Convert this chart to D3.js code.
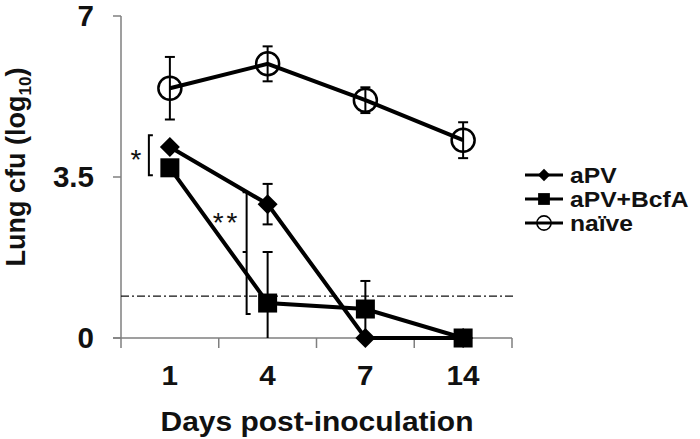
<!DOCTYPE html>
<html>
<head>
<meta charset="utf-8">
<script src="https://cdn.jsdelivr.net/npm/d3@7"></script>
<style>
  body { margin: 0; background: #fff; }
  text { font-family: "Liberation Sans", Arial, sans-serif; font-weight: bold; fill: #111; }
</style>
</head>
<body>
<svg id="chart" width="700" height="439"></svg>
<script>
// Values (log10 cfu)
const days = ["1", "4", "7", "14"];
const apv = [4.15, 2.91, 0, 0];
const apvErr = [0.1, 0.44, 0, 0];
const apvBcfa = [3.7, 0.76, 0.63, 0];
const apvBcfaErr = [0.1, 1.11, 0.61, 0];
const naive = [5.43, 5.96, 5.17, 4.3];
const naiveErr = [0.68, 0.38, 0.28, 0.39];
const yTicks = [0, 3.5, 7];
const yTickLabels = ["0", "3.5", "7"];
const detectionLimit = 0.91;
const seriesNames = ["aPV", "aPV+BcfA", "naïve"];

const svg = d3.select("#chart");
const margin = { left: 121, right: 188, top: 16, bottom: 101 };
const width = 700, height = 439;
const drawWidth = width - margin.left - margin.right;
const drawHeight = height - margin.top - margin.bottom;

const xScale = d3.scaleBand().domain(days).range([0, drawWidth]);
const yScale = d3.scaleLinear().domain([0, 7]).range([drawHeight, 0]).clamp(true);
const cx = (d) => xScale(d) + xScale.bandwidth() / 2;

// stretch text a bit wider, the original font is broader than Liberation
function widen(sel, k) {
    sel.each(function () {
        const w = this.getComputedTextLength();
        d3.select(this).attr("textLength", w * k).attr("lengthAdjust", "spacingAndGlyphs");
    });
}

const g = svg.append("g").attr("transform", `translate(${margin.left},${margin.top})`);

// Axes
const axisColor = "#7f7f7f";
const xAxis = g.append("g").attr("transform", `translate(0,${drawHeight})`);
xAxis.append("line").attr("x1", -8).attr("x2", drawWidth)
    .attr("stroke", axisColor).attr("stroke-width", 1.5);
const xEdges = days.map((d) => xScale(d)).concat([drawWidth]);
xAxis.selectAll("line.tick").data(xEdges).enter().append("line")
    .attr("class", "tick")
    .attr("x1", (d) => d).attr("x2", (d) => d).attr("y1", 0).attr("y2", 10)
    .attr("stroke", axisColor).attr("stroke-width", 1.5);
xAxis.selectAll("text").data(days).enter().append("text")
    .attr("x", cx).attr("y", 47)
    .attr("text-anchor", "middle").style("font-size", "28px")
    .text((d) => d)
    .call(widen, 1.06);

const yAxis = g.append("g");
yAxis.append("line").attr("y1", 0).attr("y2", drawHeight)
    .attr("stroke", axisColor).attr("stroke-width", 1.5);
yAxis.selectAll("line.tick").data(yTicks).enter().append("line")
    .attr("class", "tick")
    .attr("x1", -8).attr("x2", 0).attr("y1", yScale).attr("y2", yScale)
    .attr("stroke", axisColor).attr("stroke-width", 1.5);
yAxis.selectAll("text").data(yTicks).enter().append("text")
    .attr("x", -27).attr("y", (d) => yScale(d) + 10)
    .attr("text-anchor", "end").style("font-size", "29px")
    .text((d, i) => yTickLabels[i])
    .call(widen, 1.02);

// Axis titles
svg.append("text")
    .attr("x", margin.left + 196).attr("y", 431)
    .attr("text-anchor", "middle").style("font-size", "28px")
    .text("Days post-inoculation")
    .call(widen, 1.07);
const yTitle = svg.append("text")
    .attr("transform", `translate(25,167) rotate(-90)`)
    .attr("text-anchor", "middle").style("font-size", "27px");
yTitle.append("tspan").text("Lung cfu (log");
yTitle.append("tspan").attr("dy", 6).style("font-size", "17px").text("10");
yTitle.append("tspan").attr("dy", -6).text(")");

// Detection limit
g.append("line")
    .attr("x1", 0).attr("x2", drawWidth + 4)
    .attr("y1", yScale(detectionLimit)).attr("y2", yScale(detectionLimit))
    .attr("stroke", "#111").attr("stroke-width", 1.3)
    .attr("stroke-dasharray", "8,3,2,3");

// Series
const series = [
    { name: seriesNames[0], values: apv, err: apvErr, shape: "diamond" },
    { name: seriesNames[1], values: apvBcfa, err: apvBcfaErr, shape: "square" },
    { name: seriesNames[2], values: naive, err: naiveErr, shape: "circle" }
];

const line = d3.line().x((d) => cx(d.day)).y((d) => yScale(d.v));

function drawMarker(sel, shape) {
    if (shape === "diamond") {
        sel.append("path").attr("d", "M0,-10L10,0L0,10L-10,0Z").attr("fill", "#000");
    } else if (shape === "square") {
        sel.append("rect").attr("x", -9.5).attr("y", -9.5).attr("width", 19).attr("height", 19).attr("fill", "#000");
    } else {
        sel.append("circle").attr("r", 11.5).attr("fill", "none").attr("stroke", "#000").attr("stroke-width", 2.5);
    }
}

series.forEach((s) => {
    const pts = days.map((d, i) => ({ day: d, v: s.values[i], e: s.err[i] }));
    const sg = g.append("g");
    sg.append("path").datum(pts).attr("d", line)
        .attr("fill", "none").attr("stroke", "#000").attr("stroke-width", 4);

    const eb = sg.selectAll("g.err").data(pts.filter((p) => p.e > 0.2)).enter().append("g");
    eb.append("line")
        .attr("x1", (p) => cx(p.day)).attr("x2", (p) => cx(p.day))
        .attr("y1", (p) => yScale(p.v + p.e)).attr("y2", (p) => yScale(p.v - p.e))
        .attr("stroke", "#000").attr("stroke-width", 2);
    [1, -1].forEach((sgn) => {
        eb.filter((p) => p.v - p.e > 0 || sgn > 0).append("line")
            .attr("x1", (p) => cx(p.day) - 5).attr("x2", (p) => cx(p.day) + 5)
            .attr("y1", (p) => yScale(p.v + sgn * p.e)).attr("y2", (p) => yScale(p.v + sgn * p.e))
            .attr("stroke", "#000").attr("stroke-width", 2);
    });

    sg.selectAll("g.pt").data(pts).enter().append("g")
        .attr("transform", (p) => `translate(${cx(p.day)},${yScale(p.v)})`)
        .each(function () { drawMarker(d3.select(this), s.shape); });
});

// Significance annotations
const d1 = cx(days[0]), d4 = cx(days[1]);
const br1 = [yScale(apv[0] + 0.26), yScale(apvBcfa[0] - 0.16)];
g.append("path")
    .attr("d", `M${d1 - 17},${br1[0]}H${d1 - 21}V${br1[1]}H${d1 - 17}`)
    .attr("fill", "none").attr("stroke", "#000").attr("stroke-width", 2);
g.append("text").attr("x", d1 - 34).attr("y", (br1[0] + br1[1]) / 2 + 14)
    .attr("text-anchor", "middle").style("font-size", "28px").style("font-weight", "normal")
    .text("*");

const br2 = [yScale(apv[1] + 0.26), yScale(apvBcfa[1] - 0.24), yScale(1.87)];
g.append("path")
    .attr("d", `M${d4 - 25},${br2[0]}H${d4 - 21}V${br2[1]}H${d4 - 17}M${d4 - 25},${br2[2]}H${d4 - 21}`)
    .attr("fill", "none").attr("stroke", "#000").attr("stroke-width", 2);
g.append("text").attr("x", d4 - 41).attr("y", yScale(2.6) + 14)
    .attr("text-anchor", "middle").style("font-size", "28px").style("font-weight", "normal")
    .style("letter-spacing", "3px")
    .text("**");

// Legend
const legend = svg.append("g").attr("transform", "translate(525,175)");
series.forEach((s, i) => {
    const row = legend.append("g").attr("transform", `translate(0,${i * 24})`);
    row.append("line").attr("x1", 0).attr("x2", 38)
        .attr("stroke", "#000").attr("stroke-width", 3);
    const m = row.append("g").attr("transform", "translate(19,0) scale(0.62)");
    drawMarker(m, s.shape);
    row.append("text").attr("x", 45).attr("y", 8).style("font-size", "22px").text(s.name)
        .call(widen, 1.12);
});
</script>
</body>
</html>
